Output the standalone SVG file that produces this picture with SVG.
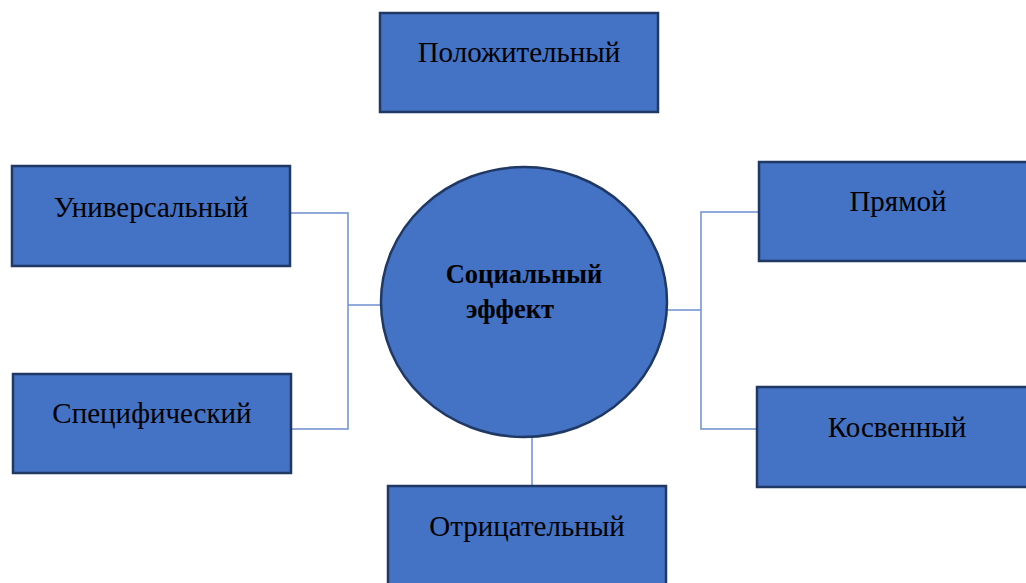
<svg xmlns="http://www.w3.org/2000/svg" width="1026" height="583" viewBox="0 0 1026 583">
<style>
.box{fill:#4472c4;stroke:#1f3864;stroke-width:2.5}
.lbl{font-family:"Liberation Serif",serif;font-size:29px;fill:#000;text-anchor:middle}
.ctr{font-family:"Liberation Serif",serif;font-size:26.5px;font-weight:bold;fill:#000;text-anchor:middle}
.con{stroke:#6f8fd0;stroke-width:1.5;fill:none}
</style>
<rect width="1026" height="583" fill="#fff"/>
<g id="connectors">
<polyline class="con" points="290,213 348,213 348,429 291,429"/>
<line class="con" x1="348" y1="305" x2="382" y2="305"/>
<polyline class="con" points="759,212 701,212 701,429 757,429"/>
<line class="con" x1="666" y1="310" x2="701" y2="310"/>
<line class="con" x1="532" y1="436" x2="532" y2="486"/>
</g>
<g id="pos"><rect class="box" x="380" y="13" width="278" height="99"/><text class="lbl" x="519" y="62">Положительный</text></g>
<g id="univ"><rect class="box" x="12" y="166" width="278" height="100"/><text class="lbl" x="151" y="217">Универсальный</text></g>
<g id="spec"><rect class="box" x="13" y="374" width="278" height="99"/><text class="lbl" x="152" y="423">Специфический</text></g>
<g id="direct"><rect class="box" x="759" y="162" width="280" height="99"/><text class="lbl" x="898" y="211">Прямой</text></g>
<g id="indirect"><rect class="box" x="757" y="387" width="282" height="100"/><text class="lbl" x="897" y="437">Косвенный</text></g>
<g id="neg"><rect class="box" x="388" y="486" width="278" height="110"/><text class="lbl" x="527" y="536">Отрицательный</text></g>
<g id="center"><ellipse class="box" cx="524" cy="302" rx="143" ry="135"/><text class="ctr" x="524" y="283">Социальный</text><text class="ctr" x="510" y="318">эффект</text></g>
</svg>
